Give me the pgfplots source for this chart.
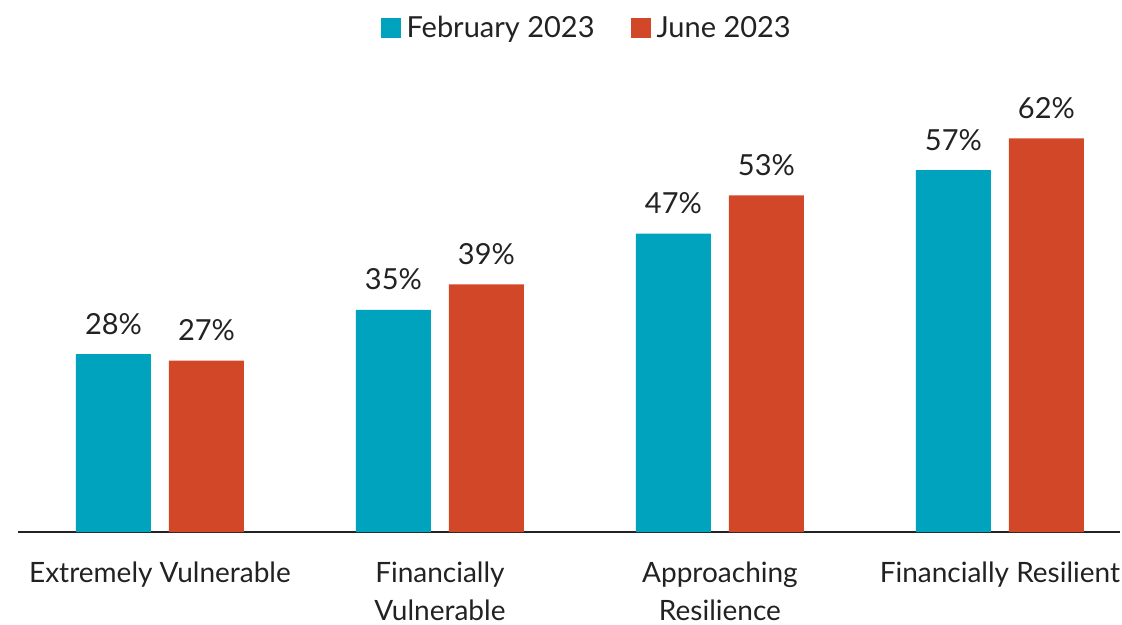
\documentclass[border=0pt]{standalone}
\usepackage{pgfplots}
\pgfplotsset{compat=1.18}
\usepackage{fontspec}
\setmainfont{Lato}
\definecolor{cteal}{HTML}{00A3BE}
\definecolor{cred}{HTML}{D14727}
\definecolor{ctext}{HTML}{222222}
\begin{document}
\begin{tikzpicture}
\begin{axis}[
  scale only axis,
  width=1102pt, height=527pt,
  xmin=-0.507, xmax=3.429,
  ymin=0, ymax=83,
  axis x line*=bottom,
  axis y line=none,
  x axis line style={line width=2pt, color=ctext, -},
  xtick={0,1,2,3},
  xticklabels={Extremely Vulnerable, Financially\\Vulnerable, Approaching\\Resilience, Financially Resilient},
  xticklabel style={align=center, font=\fontsize{28}{38}\selectfont, text=ctext, yshift=-26pt},
  major tick length=0pt,
  ybar,
  bar width=75pt,
  nodes near coords={\pgfmathprintnumber[assume math mode=true]{\pgfplotspointmeta}\%},
  nodes near coords style={font=\fontsize{29}{32}\selectfont, text=ctext, yshift=16pt},
  legend columns=2,
  legend style={draw=none, fill=none, at={(0.516,0.957)}, anchor=center,
    font=\fontsize{29}{32}\selectfont, text=ctext,
    /tikz/every odd column/.append style={column sep=4pt},
    /tikz/every even column/.append style={column sep=34pt}},
  legend image code/.code={\fill[#1] (0pt,-10pt) rectangle (20pt,10pt);},
]
\addplot[fill=cteal, draw=none, bar shift=-46.5pt] coordinates {(0,28) (1,35) (2,47) (3,57)};
\addplot[fill=cred, draw=none, bar shift=46.5pt] coordinates {(0,27) (1,39) (2,53) (3,62)};
\legend{February 2023, June 2023}
\end{axis}
\pgfresetboundingbox
\path[use as bounding box] (-18pt,-92pt) rectangle (1104pt,532pt);
\end{tikzpicture}
\end{document}
